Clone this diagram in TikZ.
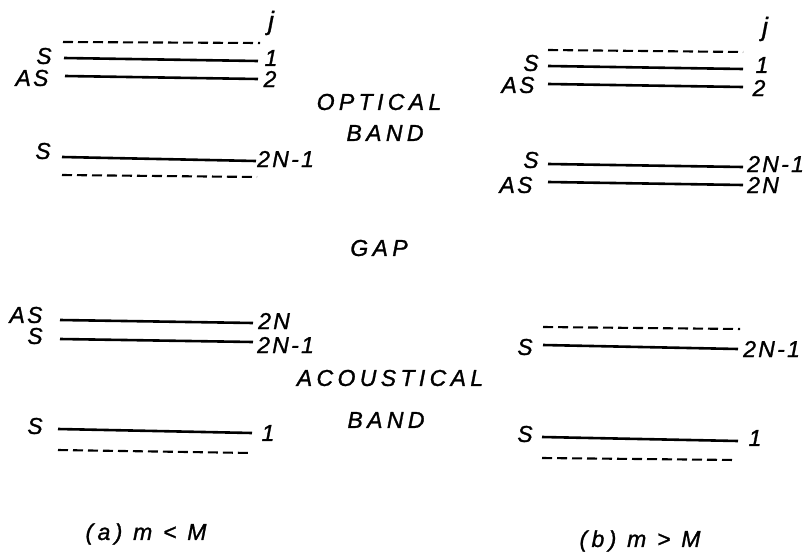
\documentclass[tikz,border=0pt]{standalone}
\usepackage{fontspec}
\newfontfamily\lblfam[LetterSpace=10,FakeBold=1.2]{Liberation Sans}
\newfontfamily\bandfam[LetterSpace=19,FakeBold=1.2]{Liberation Sans}
\begin{document}
\begin{tikzpicture}[x=1pt,y=-1pt,
  level/.style={line width=2.6pt},
  virt/.style={line width=2.1pt,dash pattern=on 10pt off 5pt},
  lbl/.style={inner sep=0pt,font=\lblfam\itshape\fontsize{23}{27}\selectfont},
  bandlbl/.style={inner sep=0pt,font=\bandfam\itshape\fontsize{23}{27}\selectfont}]
\useasboundingbox (0,0) rectangle (811,554);
% ---------- (a) left panel, optical ----------
\node[lbl,font=\lblfam\itshape\fontsize{26}{30}\selectfont] (aj) at (271,23) {j};
\draw[virt] (63,42) -- (260,43);
\draw[level] (64,58) -- (258,61);
\node[lbl] (aS1) at (44,56) {S};
\node[lbl] (a1) at (271,58) {1};
\draw[level] (65,76) -- (258,79);
\node[lbl] (aAS2) at (32,78) {AS};
\node[lbl] (a2) at (270,79) {2};
\draw[level] (62,157) -- (256,161);
\node[lbl] (aS3) at (43,151) {S};
\node[lbl,anchor=west] (a2N1) at (257,159) {2N-1};
\draw[virt] (62,175) -- (257,177);
% ---------- (a) acoustical ----------
\draw[level] (60,320) -- (253,323);
\node[lbl] (aAS4) at (26,315) {AS};
\node[lbl,anchor=west] (a2N) at (258,321) {2N};
\draw[level] (60,339) -- (253,342);
\node[lbl] (aS5) at (35,336) {S};
\node[lbl,anchor=west] (a2N1b) at (257,345) {2N-1};
\draw[level] (58,429) -- (252,433);
\node[lbl] (aS6) at (35,426) {S};
\node[lbl] (a1b) at (268,433) {1};
\draw[virt] (58,450) -- (252,453);
% ---------- (b) right panel, optical ----------
\node[lbl,font=\lblfam\itshape\fontsize{26}{30}\selectfont] (bj) at (765,29) {j};
\draw[virt] (548,50) -- (743,52);
\draw[level] (548,66) -- (743,69);
\node[lbl] (bS1) at (531,63) {S};
\node[lbl] (b1) at (762,65) {1};
\draw[level] (548,84) -- (743,87);
\node[lbl] (bAS2) at (518,85) {AS};
\node[lbl] (b2) at (759,88) {2};
\draw[level] (548,164) -- (743,167);
\node[lbl] (bS3) at (531,160) {S};
\node[lbl,anchor=west] (b2N1) at (747,164) {2N-1};
\draw[level] (548,182) -- (743,185);
\node[lbl] (bAS4) at (516,185) {AS};
\node[lbl,anchor=west] (b2N) at (747,185) {2N};
% ---------- (b) acoustical ----------
\draw[virt] (543,327) -- (740,329);
\draw[level] (543,345) -- (738,349);
\node[lbl] (bS5) at (525,347) {S};
\node[lbl,anchor=west] (b2N1b) at (743,349) {2N-1};
\draw[level] (542,437) -- (738,441);
\node[lbl] (bS6) at (525,434) {S};
\node[lbl] (b1b) at (755,438) {1};
\draw[virt] (542,458) -- (736,460);
% ---------- band labels ----------
\node[bandlbl] (opt) at (379,102) {OPTICAL};
\node[bandlbl] (optb) at (385,133) {BAND};
\node[bandlbl] (gap) at (379,248) {GAP};
\node[bandlbl] (aco) at (390,378) {ACOUSTICAL};
\node[bandlbl] (acob) at (386,420) {BAND};
% ---------- captions ----------
\node[bandlbl] (capa) at (146,534) {(a) m < M};
\node[bandlbl] (capb) at (640,541) {(b) m > M};
\end{tikzpicture}
\end{document}
